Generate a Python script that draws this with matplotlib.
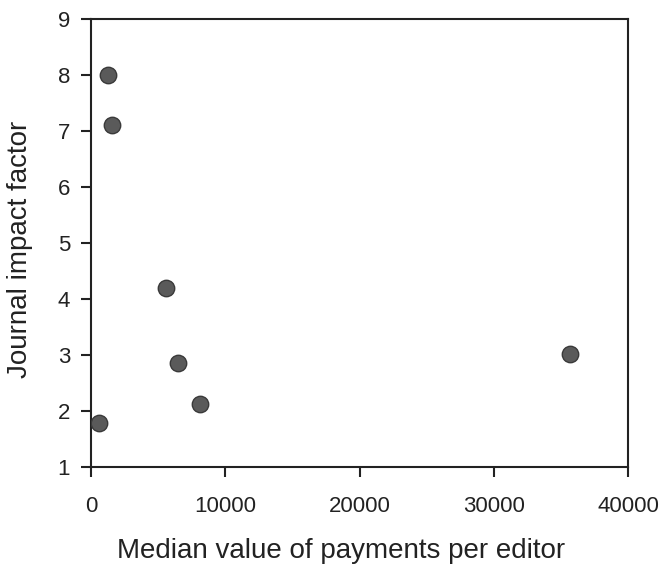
import matplotlib
matplotlib.use("Agg")
import matplotlib.pyplot as plt

# median payment per editor (USD) vs journal impact factor
payments = [1300, 1600, 5600, 6500, 8100, 600, 35700]
impact_factor = [8.0, 7.1, 4.2, 2.86, 2.12, 1.79, 3.01]

x_ticks = [0, 10000, 20000, 30000, 40000]
y_ticks = [1, 2, 3, 4, 5, 6, 7, 8, 9]

plt.rcParams["font.family"] = ["Liberation Sans", "DejaVu Sans"]

fig = plt.figure(figsize=(6.66, 5.73), dpi=100)
ax = fig.add_axes([0.1366, 0.185, 0.8064, 0.782])

ax.scatter(payments, impact_factor, s=140, color="#5a5a5a", edgecolor="#3a3a3a",
           linewidth=1.0, zorder=3)

ax.set_xlim(0, 40000)
ax.set_ylim(1, 9)
ax.set_xticks(x_ticks)
ax.set_yticks(y_ticks)
ax.tick_params(axis="both", direction="out", length=7, width=1.5, labelsize=16,
               colors="#222222", pad=8)
ax.tick_params(axis="x", pad=14)

for side in ["left", "right", "top", "bottom"]:
    ax.spines[side].set_linewidth(1.5)
    ax.spines[side].set_color("#222222")

ax.set_xlabel("Median value of payments per editor", fontsize=20, color="#222222")
ax.set_ylabel("Journal impact factor", fontsize=20, color="#222222")
# labels sit a little off the axes centre in the original
ax.xaxis.set_label_coords(0.466, -0.158)
ax.yaxis.set_label_coords(-0.108, 0.485)

fig.savefig("out.png", dpi=100)
